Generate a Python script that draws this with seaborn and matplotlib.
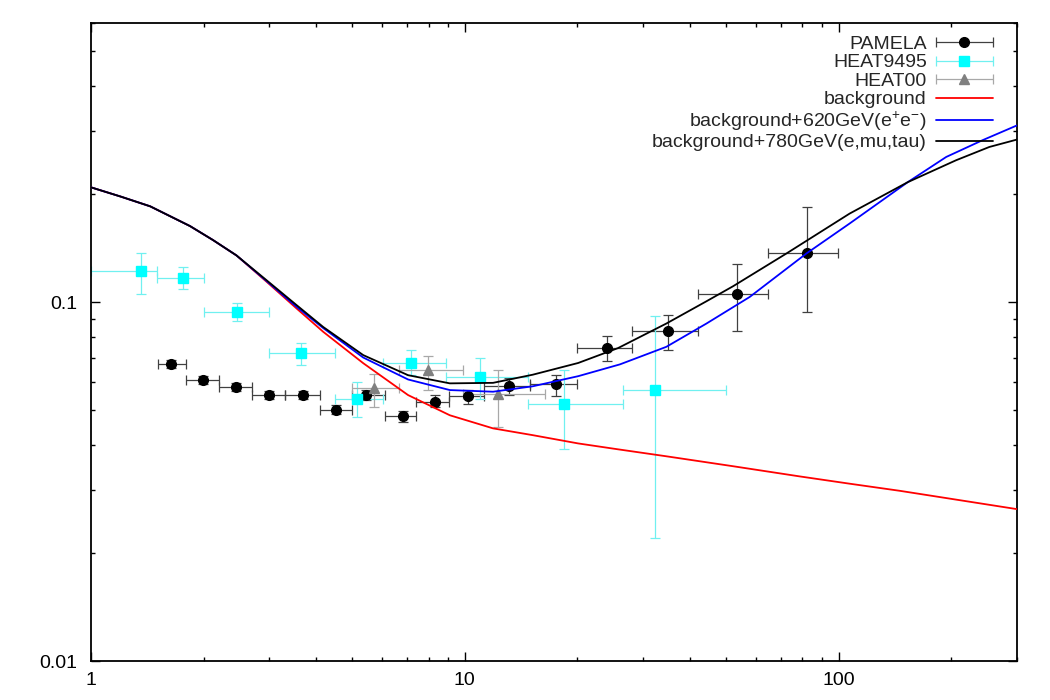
import numpy as np
import matplotlib
matplotlib.use("Agg")
import matplotlib.pyplot as plt
import seaborn as sns
from matplotlib.container import ErrorbarContainer
from matplotlib.legend_handler import HandlerErrorbar
from matplotlib.ticker import NullFormatter

# PAMELA positron fraction
pam_x = [1.64, 1.99, 2.44, 2.99, 3.68, 4.52, 5.44, 6.83, 8.30, 10.17, 13.11, 17.55, 23.97, 34.97, 53.4, 82.1]
pam_xlo = [1.51, 1.80, 2.20, 2.70, 3.30, 4.10, 4.99, 6.10, 7.40, 9.06, 11.24, 14.92, 19.93, 27.96, 42.0, 64.6]
pam_xhi = [1.80, 2.20, 2.70, 3.30, 4.10, 4.99, 6.10, 7.40, 9.06, 11.24, 14.92, 19.93, 27.96, 42.0, 64.6, 99.4]
pam_y = [0.0672, 0.0606, 0.0582, 0.0551, 0.0551, 0.0502, 0.0551, 0.0482, 0.0528, 0.0546, 0.0585, 0.0591, 0.0746, 0.0830, 0.1057, 0.1372]
pam_ylo = [0.0655, 0.0590, 0.0567, 0.0537, 0.0537, 0.0487, 0.0533, 0.0465, 0.0509, 0.0520, 0.0553, 0.0548, 0.0685, 0.0736, 0.0830, 0.0938]
pam_yhi = [0.0690, 0.0622, 0.0597, 0.0565, 0.0566, 0.0518, 0.0569, 0.0499, 0.0550, 0.0570, 0.0613, 0.0628, 0.0804, 0.0922, 0.1276, 0.1848]

# HEAT 94-95
h95_x = [1.36, 1.76, 2.46, 3.64, 5.15, 7.18, 11.0, 18.4, 32.2]
h95_xlo = [1.0, 1.50, 2.00, 3.00, 4.50, 6.03, 8.90, 14.8, 26.5]
h95_xhi = [1.50, 2.00, 3.00, 4.50, 6.03, 8.90, 14.8, 26.5, 50.1]
h95_y = [0.1218, 0.1169, 0.0938, 0.0720, 0.0538, 0.0679, 0.0619, 0.0520, 0.0570]
h95_ylo = [0.1057, 0.1087, 0.0887, 0.0669, 0.0479, 0.0626, 0.0539, 0.0390, 0.0220]
h95_yhi = [0.1375, 0.1250, 0.0992, 0.0770, 0.0600, 0.0738, 0.0700, 0.0648, 0.0918]

# HEAT 2000
h00_x = [5.72, 7.98, 12.3]
h00_xlo = [4.98, 6.67, 9.90]
h00_xhi = [6.67, 9.90, 16.4]
h00_y = [0.0575, 0.0647, 0.0554]
h00_ylo = [0.0509, 0.0571, 0.0449]
h00_yhi = [0.0629, 0.0709, 0.0649]

# model curves
bg_x = [1.0, 1.2, 1.44, 1.84, 2.12, 2.45, 2.95, 3.55, 4.18, 5.35, 7.05, 9.12, 11.9, 15.2, 20.1, 25.7, 34.6, 52.2, 78.6, 107, 146, 300]
bg_y = [0.209, 0.197, 0.185, 0.163, 0.149, 0.135, 0.114, 0.096, 0.0827, 0.0676, 0.0551, 0.0484, 0.0445, 0.0426, 0.0404, 0.0389, 0.0372, 0.0349, 0.0327, 0.0312, 0.0298, 0.0265]

ee_x = [1.0, 1.2, 1.44, 1.84, 2.12, 2.45, 2.95, 3.55, 4.18, 5.35, 7.05, 9.12, 11.9, 15.2, 20.1, 26.0, 34.6, 44.3, 57.8, 82.0, 107, 153, 194, 243, 300]
ee_y = [0.209, 0.197, 0.185, 0.163, 0.149, 0.135, 0.1145, 0.097, 0.0847, 0.0701, 0.0609, 0.0569, 0.0563, 0.0583, 0.0622, 0.0671, 0.0751, 0.0872, 0.1034, 0.1367, 0.1657, 0.216, 0.254, 0.283, 0.311]

emt_x = [1.0, 1.2, 1.44, 1.84, 2.12, 2.45, 2.95, 3.55, 4.18, 5.35, 7.05, 9.12, 11.9, 15.2, 20.1, 25.7, 34.6, 44.3, 52.2, 72.5, 107, 153, 206, 253, 300]
emt_y = [0.209, 0.197, 0.185, 0.163, 0.149, 0.135, 0.1151, 0.0981, 0.0853, 0.0712, 0.0626, 0.0594, 0.0596, 0.0628, 0.0677, 0.0745, 0.0872, 0.1006, 0.1108, 0.1367, 0.1766, 0.216, 0.2486, 0.2708, 0.284]

labels = ["PAMELA", "HEAT9495", "HEAT00", "background",
          "background+620GeV(e$^{+}$e$^{-}$)", "background+780GeV(e,mu,tau)"]


def asym(v, lo, hi):
    v, lo, hi = np.array(v), np.array(lo), np.array(hi)
    return [v - lo, hi - v]


sns.set_theme(style="ticks")
plt.rcParams["font.family"] = ["Liberation Sans", "DejaVu Sans"]
plt.rcParams["mathtext.default"] = "regular"

fig = plt.figure(figsize=(10.5, 7), dpi=100)
ax = fig.add_axes([91 / 1050, 39 / 700, 926 / 1050, 638 / 700])
ax.set_xscale("log")
ax.set_yscale("log")

styles = [
    dict(fmt="o", color="black", ms=7, ecolor="#404040"),
    dict(fmt="s", color="cyan", ms=6.5, ecolor="#70f0f0"),
    dict(fmt="^", color="#808080", ms=6.5, ecolor="#a8a8a8"),
]
sets = [
    (pam_x, pam_xlo, pam_xhi, pam_y, pam_ylo, pam_yhi),
    (h95_x, h95_xlo, h95_xhi, h95_y, h95_ylo, h95_yhi),
    (h00_x, h00_xlo, h00_xhi, h00_y, h00_ylo, h00_yhi),
]
handles = []
for (x, xlo, xhi, y, ylo, yhi), st in zip(sets, styles):
    ax.errorbar(x, y, xerr=asym(x, xlo, xhi), yerr=asym(y, ylo, yhi),
                elinewidth=0.9, capsize=3.5, capthick=0.9, zorder=2, **st)
    # legend proxy: horizontal bar only, like the original key
    h = ax.errorbar([np.nan], [np.nan], xerr=[1.0], elinewidth=0.9,
                    capsize=3.5, capthick=0.9, **st)
    handles.append(h)

for cx, cy, col in [(bg_x, bg_y, "red"), (ee_x, ee_y, "blue"), (emt_x, emt_y, "black")]:
    sns.lineplot(x=cx, y=cy, color=col, lw=1.3, sort=False, estimator=None,
                 legend=False, ax=ax, zorder=3)
    handles.append(ax.get_lines()[-1])

ax.set_xlim(1, 300)
ax.set_ylim(0.01, 0.6)
ax.set_xticks([1, 10, 100], labels=["1", "10", "100"])
ax.set_yticks([0.01, 0.1], labels=["0.01", "0.1"])
ax.xaxis.set_minor_formatter(NullFormatter())
ax.yaxis.set_minor_formatter(NullFormatter())
ax.tick_params(which="both", direction="in", top=True, right=True,
               colors="black", labelsize=14, width=1.0)
ax.tick_params(which="major", length=6.5)
ax.tick_params(which="minor", length=3.2)
ax.tick_params(axis="x", which="major", pad=8)
ax.tick_params(axis="y", which="major", pad=10)
for s in ax.spines.values():
    s.set_linewidth(1.3)
    s.set_color("black")

hl = 2.95
ax.legend(handles, labels, loc="upper right", bbox_to_anchor=(0.974, 0.981),
          frameon=False, markerfirst=False, fontsize=14, handlelength=hl,
          handletextpad=0.45, labelspacing=0.05, borderpad=0, borderaxespad=0,
          handler_map={ErrorbarContainer: HandlerErrorbar(xerr_size=hl / 2 - 0.02)})

fig.savefig("out.png", dpi=100)
